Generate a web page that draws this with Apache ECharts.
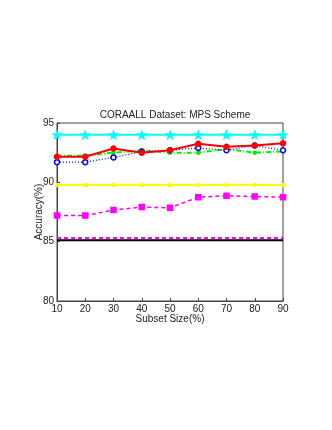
<!DOCTYPE html>
<html>
<head>
<meta charset="utf-8">
<script src="https://cdn.jsdelivr.net/npm/echarts@6/dist/echarts.min.js"></script>
<style>
  html, body { margin: 0; padding: 0; background: #fff; }
  #chart { width: 332px; height: 430px; }
</style>
</head>
<body>
<div id="chart"></div>
<script>
// subset sizes (%)
var subsetSizes = [10, 20, 30, 40, 50, 60, 70, 80, 90];

// accuracy values
var cyanStar     = [94.0, 94.0, 94.0, 94.0, 94.0, 94.0, 94.0, 94.0, 94.0];
var redCircle    = [92.15, 92.15, 92.85, 92.5, 92.7, 93.25, 93.0, 93.1, 93.3];
var blueCircle   = [91.7, 91.7, 92.1, 92.6, 92.7, 92.9, 92.7, 93.1, 92.7];
var greenDashDot = [92.25, 92.25, 92.5, 92.7, 92.5, 92.5, 92.8, 92.5, 92.6];
var yellowLine   = [89.78, 89.78, 89.78, 89.78, 89.78, 89.78, 89.78, 89.78, 89.78];
var magentaSq    = [87.2, 87.2, 87.67, 87.92, 87.85, 88.75, 88.87, 88.8, 88.75];
var magentaFlat  = [85.3, 85.3, 85.3, 85.3, 85.3, 85.3, 85.3, 85.3, 85.3];
var blackFlat    = [85.12, 85.12, 85.12, 85.12, 85.12, 85.12, 85.12, 85.12, 85.12];

var yTicks = [80, 85, 90, 95];

function pairs( ys ) {
    return subsetSizes.map( function( x, i ) { return [ x, ys[ i ] ]; } );
}

function line( data, color, width, dash, symbol, size, fill ) {
    return {
        type: 'line',
        data: pairs( data ),
        symbol: symbol,
        symbolSize: size,
        showSymbol: symbol !== 'none',
        lineStyle: { color: color, width: width, type: dash },
        itemStyle: { color: fill || color, borderColor: color, borderWidth: 1.5 },
        z: 3
    };
}

// small 5-point star, like matlab's 'p' marker
var starPath = 'path://M0,-10 L2.4,-3.2 L9.5,-3.1 L3.8,1.2 L5.9,8.1 L0,4 L-5.9,8.1 L-3.8,1.2 L-9.5,-3.1 L-2.4,-3.2 Z';

var axisFont = { fontFamily: 'Liberation Sans, Arial, sans-serif', fontSize: 10, color: '#222' };

var myChart = echarts.init( document.getElementById( 'chart' ) ),
    option = {
        animation: false,
        backgroundColor: '#fff',
        title: {
            text: 'CORAALL Dataset: MPS Scheme',
            left: 170,
            textAlign: 'center',
            top: 105,
            textStyle: { fontFamily: 'Liberation Sans, Arial, sans-serif', fontSize: 10, fontWeight: 'normal', color: '#222' }
        },
        grid: {
            left: 57,
            right: 49,
            top: 123,
            bottom: 129,
            show: true,
            borderColor: '#444',
            borderWidth: 1,
            backgroundColor: 'transparent'
        },
        xAxis: {
            type: 'value',
            min: 10,
            max: 90,
            interval: 10,
            name: 'Subset Size(%)',
            nameLocation: 'middle',
            nameGap: 13,
            nameMoveOverlap: false,
            nameTextStyle: axisFont,
            axisLine: { lineStyle: { color: '#444' } },
            axisTick: { inside: true, length: 3, lineStyle: { color: '#444' } },
            axisLabel: Object.assign( { margin: 3 }, axisFont ),
            splitLine: { show: false }
        },
        yAxis: {
            type: 'value',
            min: yTicks[ 0 ],
            max: yTicks[ yTicks.length - 1 ],
            interval: 5,
            name: 'Accuracy(%)',
            nameLocation: 'middle',
            nameGap: 13,
            nameMoveOverlap: false,
            nameTextStyle: axisFont,
            axisLine: { show: true, lineStyle: { color: '#444' } },
            axisTick: { show: true, inside: true, length: 3, lineStyle: { color: '#444' } },
            axisLabel: Object.assign( { margin: 3 }, axisFont ),
            splitLine: { show: false }
        },
        series: [
            line( blackFlat, '#000000', 2, 'solid', 'none', 0 ),
            line( magentaFlat, '#ff00ff', 2, [ 4, 3 ], 'none', 0 ),
            line( magentaSq, '#ff00ff', 1.5, [ 4, 3 ], 'rect', 5 ),
            line( yellowLine, '#ffff00', 2, 'solid', 'circle', 3 ),
            line( greenDashDot, '#00ee00', 2, [ 5, 2, 1, 2 ], 'circle', 3 ),
            line( blueCircle, '#0000ff', 1.2, [ 1, 2 ], 'circle', 5, '#ffffff' ),
            line( redCircle, '#ff0000', 2, 'solid', 'circle', 5 ),
            line( cyanStar, '#00ffff', 2, 'solid', starPath, 7 )
        ]
    };

myChart.setOption( option );
</script>
</body>
</html>
